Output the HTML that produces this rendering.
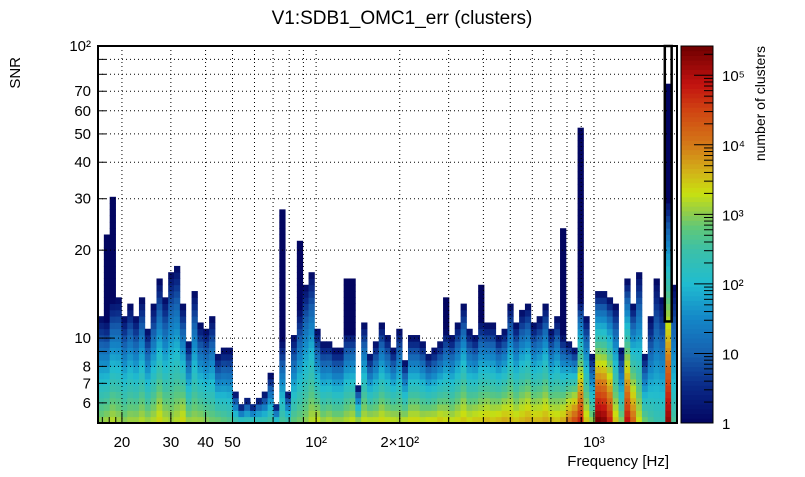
<!DOCTYPE html>
<html><head><meta charset="utf-8"><style>
body{margin:0;background:#fff;}
svg text{font-family:"Liberation Sans",sans-serif;fill:#000;}
</style></head><body>
<svg id="chart" width="805" height="472" viewBox="0 0 805 472" xmlns="http://www.w3.org/2000/svg">
<rect x="0" y="0" width="805" height="472" fill="#fff"/>
<text x="402" y="24" font-size="19" text-anchor="middle">V1:SDB1_OMC1_err (clusters)</text>
<text x="0" y="0" font-size="15" text-anchor="end" transform="translate(20,57) rotate(-90)">SNR</text>
<text x="669" y="466" font-size="15" text-anchor="end">Frequency [Hz]</text>
<text x="0" y="0" font-size="14" text-anchor="end" transform="translate(765,46) rotate(-90)">number of clusters</text>
<g id="cells"></g><g id="grid"></g><g id="axes"></g><g id="cbar"></g>
</svg>
<script>
// ---- data ----
const nBins = 99;
const freqMin = 16.4, freqMax = 1991;
const snrMin = 5.12, snrMax = 100;
const nRows = 60;
const topSNR = [11.8,22.4,30.1,13.7,11.8,13.0,11.8,13.7,10.7,13.0,
15.8,13.7,16.7,17.6,13.0,9.7,14.4,11.2,10.7,11.8,
8.8,9.2,9.2,6.5,5.9,6.2,5.9,6.2,6.5,7.5,
5.9,27.4,6.5,10.2,21.3,15.1,16.7,10.7,9.7,9.7,
9.2,9.2,15.8,15.8,6.8,11.2,8.8,9.7,11.2,10.2,
9.2,10.7,8.3,10.2,10.2,9.7,8.8,9.2,9.7,13.7,
10.2,11.2,13.0,10.7,10.2,15.1,11.2,11.2,10.2,10.7,
13.0,11.2,12.4,13.0,11.2,11.8,13.0,10.7,11.8,23.6,
9.7,9.2,52.0,11.8,8.8,14.4,14.4,13.7,13.0,9.2,
15.8,13.0,16.7,8.8,11.8,15.8,13.7,74.7,15.1];
const coreSNR = topSNR.slice();
const coreIdx = [1,2,31,34,42,43,59,65,79,82,97];
const coreVal = [11.5,13.5,9.8,12.5,10.5,10.5,10.6,11.5,10.2,13.5,29.7];
const baseLogCount = [2.9,3.0,3.1,3.0,2.9,3.0,3.0,3.1,3.0,3.1,
3.3,3.1,3.0,3.1,3.3,3.0,3.0,3.0,2.9,2.8,
2.8,2.7,2.6,2.5,2.4,2.4,2.5,2.4,2.4,2.5,
2.3,2.5,2.5,2.7,2.8,2.9,3.1,3.2,3.0,3.1,
3.0,3.0,3.1,3.2,3.1,3.2,3.2,3.2,3.3,3.2,
3.2,3.1,3.2,3.3,3.3,3.2,3.3,3.3,3.4,3.3,
3.2,3.3,3.4,3.3,3.4,3.4,3.5,3.4,3.5,3.6,
3.5,3.4,3.5,3.6,3.5,3.5,3.6,3.5,3.4,3.6,
4.0,4.4,4.7,3.4,3.0,5.3,5.2,4.7,3.4,2.9,
4.8,4.1,3.2,2.8,2.5,2.3,2.3,5.1,2.5];
const xMajorTicks = [20,30,40,50,100,200,1000];
const xMajorLabels = ["20","30","40","50","10²","2×10²","10³"];
const xMinorTicks = [60,70,80,90,300,400,500,600,700,800,900];
const xMinorNoGrid = [17,18,19];
const yGridTicks = [6,7,8,9,10,20,30,40,50,60,70,80,90,100];
const yLabelVals = [6,7,8,10,20,30,40,50,60,70,100];
const yLabels = ["6","7","8","10","20","30","40","50","60","70","10²"];
const cbarMaxLog = 5.42;
const cbarLabelsLog = [0,1,2,3,4,5];
const cbarLabels = ["1","10","10²","10³","10⁴","10⁵"];
// ---- layout ----
const X0=98,X1=677,Y0=423,Y1=46;
const lx=v=>Math.log10(v);
const xScale=f=>X0+(lx(f)-lx(freqMin))/(lx(freqMax)-lx(freqMin))*(X1-X0);
const yScale=s=>Y0-(lx(s)-lx(snrMin))/(lx(snrMax)-lx(snrMin))*(Y0-Y1);
const NS="http://www.w3.org/2000/svg";
function mk(tag,attrs,parent){const e=document.createElementNS(NS,tag);for(const k in attrs)e.setAttribute(k,attrs[k]);parent.appendChild(e);return e;}
const stops=[[0,[2,5,96]],[0.1,[10,42,136]],[0.185,[22,96,176]],[0.28,[20,136,200]],[0.37,[32,188,208]],[0.46,[60,192,168]],[0.52,[96,200,120]],[0.554,[140,204,80]],[0.61,[200,224,16]],[0.665,[210,180,24]],[0.738,[212,122,24]],[0.83,[208,68,18]],[0.9,[194,18,16]],[1,[110,0,0]]];
function color(t){t=Math.max(0,Math.min(1,t));for(let i=1;i<stops.length;i++){if(t<=stops[i][0]){const a=stops[i-1],b=stops[i];const u=(t-a[0])/(b[0]-a[0]);const c=a[1].map((v,k)=>Math.round(v+(b[1][k]-v)*u));return `rgb(${c[0]},${c[1]},${c[2]})`;}}return "rgb(110,0,0)";}
coreIdx.forEach((ci,k)=>{coreSNR[ci]=coreVal[k];});
// ---- cells ----
const cells=document.getElementById('cells');
const lfStep=(lx(freqMax)-lx(freqMin))/nBins, lsStep=(lx(snrMax)-lx(snrMin))/nRows;
for(let i=0;i<nBins;i++){
  const fa=Math.pow(10,lx(freqMin)+i*lfStep), fb=Math.pow(10,lx(freqMin)+(i+1)*lfStep);
  const xa=xScale(fa), xb=xScale(fb);
  for(let r=0;r<nRows;r++){
    const sa=Math.pow(10,lx(snrMin)+r*lsStep), sb=Math.pow(10,lx(snrMin)+(r+1)*lsStep);
    const lc=(lx(sa)+lx(sb))/2;
    if(lc>=lx(topSNR[i]))break;
    let v=0;
    if(lc<lx(coreSNR[i])) v=(baseLogCount[i]+0.15)*Math.pow(1-(lc-lx(snrMin))/(lx(coreSNR[i])-lx(snrMin)),0.8);
    const rc=mk('rect',{x:xa.toFixed(2),y:yScale(sb).toFixed(2),width:(xb-xa+0.4).toFixed(2),height:(yScale(sa)-yScale(sb)+0.4).toFixed(2),fill:color(v/cbarMaxLog)},cells);
    
    
  }
}
// ---- grid ----
const grid=document.getElementById('grid');
xMajorTicks.concat(xMinorTicks).forEach(f=>{const x=xScale(f);
  const l=mk('line',{x1:x,x2:x,y1:Y1,y2:Y0,stroke:'#000','stroke-width':1,'stroke-dasharray':'1,3'},grid);
  });
yGridTicks.forEach(s=>{const y=yScale(s);
  const l=mk('line',{x1:X0,x2:X1,y1:y,y2:y,stroke:'#000','stroke-width':1,'stroke-dasharray':'1,3'},grid);
  });
// ---- axes ----
const axes=document.getElementById('axes');
const fr=mk('rect',{x:X0,y:Y1,width:X1-X0,height:Y0-Y1,fill:'none',stroke:'#000','stroke-width':2},axes);

xMajorTicks.forEach((f,k)=>{const x=xScale(f);
  mk('line',{x1:x,x2:x,y1:Y0,y2:Y0-11,stroke:'#000','stroke-width':1},axes);
  const t=mk('text',{x:x,y:Y0+24,'font-size':15,'text-anchor':'middle'},axes);t.textContent=xMajorLabels[k];
  });
xMinorTicks.concat(xMinorNoGrid).forEach(f=>{const x=xScale(f);mk('line',{x1:x,x2:x,y1:Y0,y2:Y0-6,stroke:'#000','stroke-width':1},axes);});
yGridTicks.forEach(s=>{const y=yScale(s);const maj=(s===10||s===100);mk('line',{x1:X0,x2:X0+(maj?16:8),y1:y,y2:y,stroke:'#000','stroke-width':1},axes);});
yLabelVals.forEach((s,k)=>{const t=mk('text',{x:X0-7,y:yScale(s)+5,'font-size':15,'text-anchor':'end'},axes);t.textContent=yLabels[k];
  });
// highlighted bin box
const hb=97;const hxa=xScale(Math.pow(10,lx(freqMin)+hb*lfStep)),hxb=xScale(Math.pow(10,lx(freqMin)+(hb+1)*lfStep));
const box=mk('rect',{x:hxa-0.5,y:Y1,width:hxb-hxa+1,height:yScale(11.4)-Y1,fill:'none',stroke:'#000','stroke-width':2.5},axes);

// ---- colorbar ----
const cb=document.getElementById('cbar');const CX0=681,CX1=713;
const cbs=(lv)=>Y0-lv/cbarMaxLog*(Y0-Y1);
for(let k=0;k<80;k++){const a=k/80*cbarMaxLog,b=(k+1)/80*cbarMaxLog;
  const r=mk('rect',{x:CX0,y:cbs(b),width:CX1-CX0,height:cbs(a)-cbs(b)+0.5,fill:color((a+b)/2/cbarMaxLog)},cb);
  }
for(let d=0;d<6;d++){for(let m=1;m<10;m++){const lv=d+lx(m);if(lv>cbarMaxLog)break;const y=cbs(lv);
  mk('line',{x1:CX1,x2:CX1-(m===1?19:9),y1:y,y2:y,stroke:'#000','stroke-width':1},cb);}}
mk('rect',{x:CX0,y:Y1,width:CX1-CX0,height:Y0-Y1,fill:'none',stroke:'#000','stroke-width':1},cb);
cbarLabelsLog.forEach((lv,k)=>{const t=mk('text',{x:CX1+9,y:cbs(lv)+6,'font-size':15},cb);t.textContent=cbarLabels[k];
  });
</script>
</body></html>
